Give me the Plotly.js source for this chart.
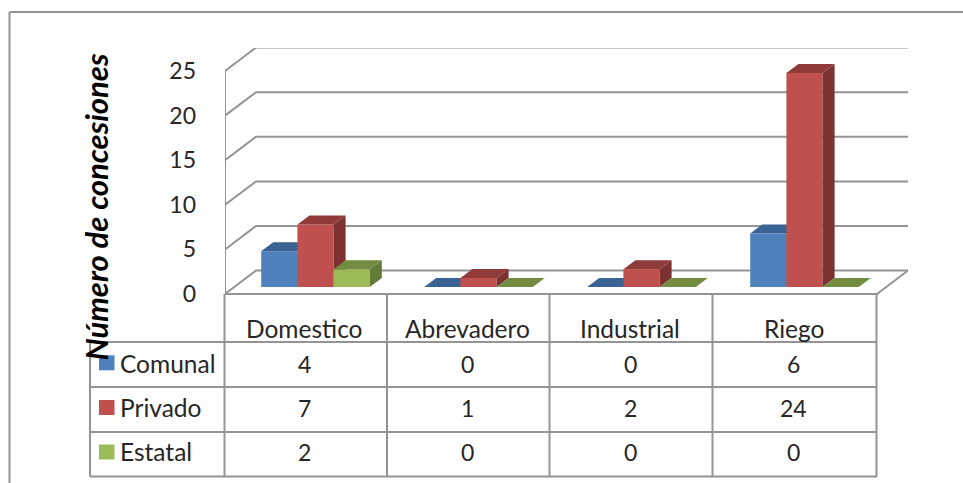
<!DOCTYPE html>
<html>
<head>
<meta charset="utf-8">
<script src="https://cdn.plot.ly/plotly-3.0.1.min.js"></script>
<style>html,body{margin:0;padding:0;background:#fff}#chart{width:963px;height:483px}</style>
</head>
<body>
<div id="chart"></div>
<script>
const categories = ['Domestico', 'Abrevadero', 'Industrial', 'Riego'];
const seriesNames = ['Comunal', 'Privado', 'Estatal'];
const comunal = [4, 0, 0, 6];
const privado = [7, 1, 2, 24];
const estatal = [2, 0, 0, 0];
const tickValues = [0, 5, 10, 15, 20, 25];
const frontColors = ['#4F81BD', '#C0504D', '#9BBB59'];
const topColors = ['#3A6292', '#8F3B39', '#748C42'];
const sideColors = ['#32547D', '#7B3230', '#637A39'];

const W = 963, H = 483;
const plot = {l: 225, r: 908, t: 48, b: 366};
const xUnit = 163, yUnit = 8.92, zeroY = 294;
const wallDx = (plot.r - plot.l) / xUnit - categories.length;
const wallDy = 23.4 / yUnit;
const barW = 36.2 / xUnit, barDx = 12 / xUnit, barDy = 9 / yUnit;
const floorDx = 9 / xUnit, floorDy = 7 / yUnit;
const xRange = [0, categories.length + wallDx];
const yRange = [(zeroY - plot.b) / yUnit, (zeroY - plot.t) / yUnit];
const gridColor = '#949494';
const allSeries = [comunal, privado, estatal];

const traces = [];
// walls and floor
const wx = [], wy = [];
tickValues.forEach(v => { wx.push(0, wallDx, xRange[1], null); wy.push(v, v + wallDy, v + wallDy, null); });
wx.push(0, 0, null, 0, categories.length, xRange[1]);
wy.push(0, tickValues[tickValues.length - 1], null, 0, 0, wallDy);
traces.push({type: 'scatter', mode: 'lines', x: wx, y: wy, xaxis: 'x', yaxis: 'y', cliponaxis: false,
  line: {color: gridColor, width: 2}, hoverinfo: 'skip', showlegend: false});

allSeries.forEach((vals, s) => {
  const ax = s + 2;
  const xa = 'x' + ax, ya = 'y' + ax;
  const lefts = categories.map((c, i) => i + 0.5 + floorDx + (s - 1.5) * barW);
  // front faces
  traces.push({type: 'bar', name: seriesNames[s], x: lefts.map(l => l + barW / 2), y: vals,
    base: vals.map(() => floorDy), width: barW, xaxis: xa, yaxis: ya,
    marker: {color: frontColors[s], line: {width: 0}}, showlegend: false, hoverinfo: 'y'});
  // top and side faces
  const tx = [], ty = [], sx = [], sy = [];
  vals.forEach((v, i) => {
    const l = lefts[i], r = l + barW, b = floorDy, t = floorDy + v;
    tx.push(l, r, r + barDx, l + barDx, l, null);
    ty.push(t, t, t + barDy, t + barDy, t, null);
    if (v > 0) {
      sx.push(r, r + barDx, r + barDx, r, r, null);
      sy.push(b, b + barDy, t + barDy, t, b, null);
    }
  });
  traces.push({type: 'scatter', mode: 'lines', x: sx, y: sy, xaxis: xa, yaxis: ya, fill: 'toself',
    fillcolor: sideColors[s], line: {width: 0, color: sideColors[s]}, hoverinfo: 'skip', showlegend: false});
  traces.push({type: 'scatter', mode: 'lines', x: tx, y: ty, xaxis: xa, yaxis: ya, fill: 'toself',
    fillcolor: topColors[s], line: {width: 0, color: topColors[s]}, hoverinfo: 'skip', showlegend: false});
});

const px = x => (x - plot.l) / (plot.r - plot.l), py = y => (plot.b - y) / (plot.b - plot.t);
const rule = (x0, y0, x1, y1) => ({type: 'line', xref: 'paper', yref: 'paper', x0: px(x0), y0: py(y0), x1: px(x1), y1: py(y1),
  line: {color: gridColor, width: 2}, layer: 'above'});
const colLines = [224.5, 387, 549.5, 712.5, 876.5];
const rowLines = [342, 387, 432, 476.5];
const shapes = [rule(9.5, 12, 963, 12), rule(9.5, 12, 9.5, 483), rule(90, 342, 90, 476.5)];
colLines.forEach(x => shapes.push(rule(x, 294, x, 476.5)));
rowLines.forEach(y => shapes.push(rule(90, y, 877, y)));

const rowCenters = [364, 408, 452];
const keyTops = [355.3, 400, 444.5];
seriesNames.forEach((n, s) => shapes.push({type: 'rect', xref: 'paper', yref: 'paper', x0: px(99), x1: px(114.5),
  y0: py(keyTops[s]), y1: py(keyTops[s] + 15), fillcolor: frontColors[s], line: {width: 0}}));

const family = 'Lato, Carlito, sans-serif';
const font = {family, size: 23, color: '#262626'};
const wordFont = {family, size: 24.5, color: '#262626'};
const annotations = [];
const cell = (text, xPix, yPix, anchor, f) => annotations.push({text: String(text), xref: 'paper', yref: 'paper',
  x: px(xPix), y: py(yPix), xanchor: anchor, yanchor: 'middle', showarrow: false, font: f, borderpad: 0});
const colCenters = colLines.slice(0, -1).map((x, i) => (x + colLines[i + 1]) / 2 - 1);
categories.forEach((c, i) => {
  cell(c, colCenters[i], 328, 'center', wordFont);
  allSeries.forEach((vals, s) => cell(vals[i], colCenters[i], rowCenters[s], 'center', font));
});
seriesNames.forEach((n, s) => cell(n, 119, rowCenters[s] - 1, 'left', wordFont));

const hidden = ov => ({overlaying: ov, visible: false, fixedrange: true});
const layout = {
  width: W, height: H, showlegend: false, barmode: 'overlay',
  paper_bgcolor: '#fff', plot_bgcolor: 'rgba(0,0,0,0)',
  margin: {l: plot.l, r: W - plot.r, t: plot.t, b: H - plot.b, pad: 0},
  xaxis: {range: xRange, visible: false, fixedrange: true},
  yaxis: {range: yRange, tickmode: 'array', tickvals: tickValues, ticktext: tickValues.map(String),
    showgrid: false, zeroline: false, showline: false, ticks: '', ticklabelstandoff: 28,
    tickfont: font, fixedrange: true,
    title: {text: 'Número de concesiones', standoff: 51,
      font: {family, size: 31, style: 'italic', weight: 700, color: '#000'}}},
  shapes, annotations
};
[2, 3, 4].forEach(n => {
  layout['xaxis' + n] = Object.assign(hidden('x'), {range: xRange});
  layout['yaxis' + n] = Object.assign(hidden('y'), {range: yRange});
});
Plotly.newPlot('chart', traces, layout, {displayModeBar: false, staticPlot: true});
</script>
</body>
</html>
